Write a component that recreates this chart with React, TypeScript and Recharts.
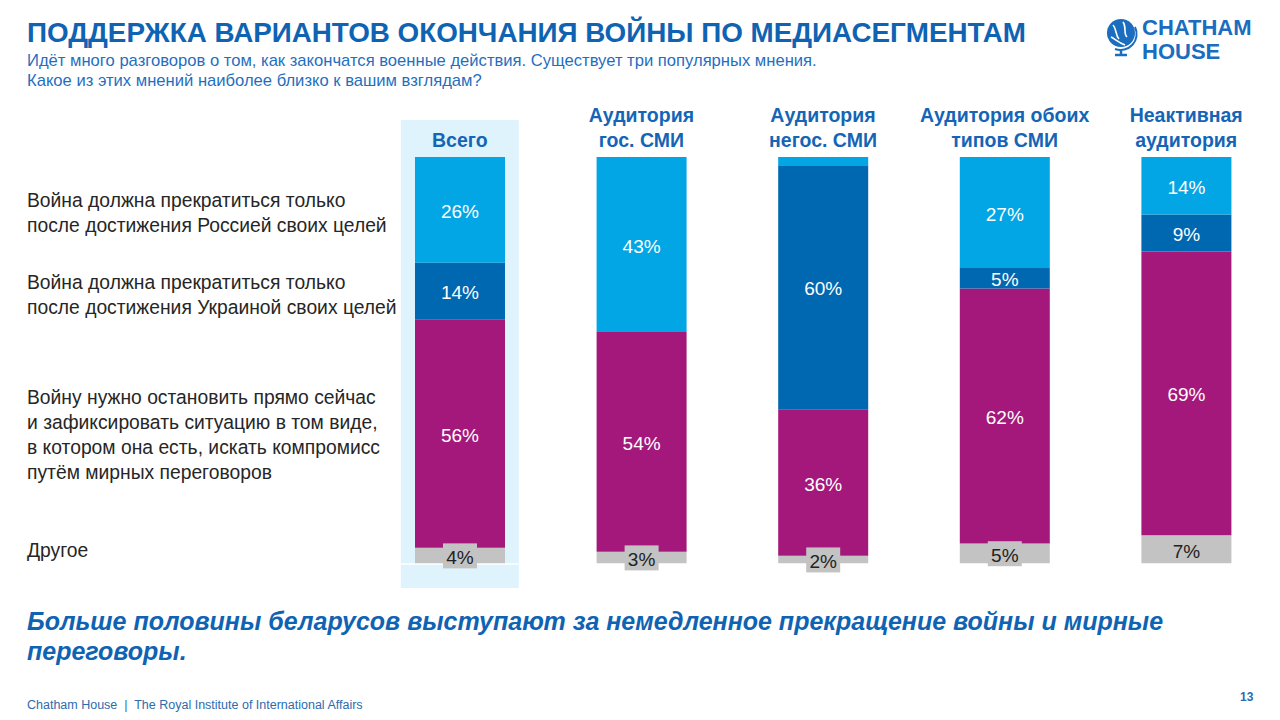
import React from "react";
import {
  BarChart,
  Bar,
  XAxis,
  YAxis,
  LabelList,
  ReferenceArea,
  ReferenceLine,
} from "recharts";

// Column headers (media segments)
const segments = [
  "Всего",
  "Аудитория\nгос. СМИ",
  "Аудитория\nнегос. СМИ",
  "Аудитория обоих\nтипов СМИ",
  "Неактивная\nаудитория",
];

// Answer shares, % (bottom to top in the stack)
const other = [4, 3, 2, 5, 7];
const stopNow = [56, 54, 36, 62, 69];
const untilUkraine = [14, 0, 60, 5, 9];
const untilRussia = [26, 43, 2, 27, 14];

// Answer wording shown on the left
const answerLabels = [
  "Война должна прекратиться только\nпосле достижения Россией своих целей",
  "Война должна прекратиться только\nпосле достижения Украиной своих целей",
  "Войну нужно остановить прямо сейчас\nи зафиксировать ситуацию в том виде,\nв котором она есть, искать компромисс\nпутём мирных переговоров",
  "Другое",
];
const answerTops = [188, 270, 385, 538];

const FONT = "'Liberation Sans', Arial, sans-serif";
const BLUE = "#0f63b3";
const colors = {
  russia: "#02a6e4",
  ukraine: "#0067b1",
  stop: "#a4187b",
  other: "#c3c3c3",
};

const chartData = segments.map((name, i) => ({
  name,
  other: other[i],
  stop: stopNow[i],
  ukraine: untilUkraine[i],
  russia: untilRussia[i],
}));

function HeaderTick(props: any) {
  const { x, y, payload } = props;
  const lines = String(payload.value).split("\n");
  return (
    <text
      x={x}
      y={y}
      textAnchor="middle"
      fill="#1565b6"
      fontFamily={FONT}
      fontWeight={700}
      fontSize={19.5}
    >
      {lines.map((line, i) => (
        <tspan key={i} x={x} y={y - 10 - (lines.length - 1 - i) * 25}>
          {line}
        </tspan>
      ))}
    </text>
  );
}

function makeLabel(dark: boolean) {
  return (props: any) => {
    const { x, y, width, height, value } = props;
    const v = Number(value);
    if (!v || (!dark && v < 3)) return null;
    const cx = x + width / 2;
    const cy = y + height / 2;
    return (
      <g>
        {dark && (
          <rect x={cx - 17} y={cy - 12.5} width={34} height={25} fill={colors.other} />
        )}
        <text
          x={cx}
          y={cy + 8}
          textAnchor="middle"
          fill={dark ? "#222" : "#fff"}
          fontFamily={FONT}
          fontSize={19}
        >
          {v}%
        </text>
      </g>
    );
  };
}

function Highlight(props: any) {
  const { x, y, width, height } = props;
  const cx = x + width / 2;
  return (
    <rect x={cx - 59} y={y - 37} width={118} height={height + 61} fill="#dff3fd" />
  );
}

function Globe() {
  return (
    <svg width={34} height={42} viewBox="0 0 34 42" style={{ position: "absolute", left: 1105, top: 17 }}>
      <circle cx={16} cy={16} r={14} fill="#1a6dbf" />
      <path d="M8 8 C12 12, 10 18, 14 22 M18 5 C22 10, 18 16, 22 20 M6 20 C10 22, 14 26, 20 28" stroke="#fff" strokeWidth={1.6} fill="none" />
      <path d="M30 10 A16 16 0 0 1 10 32" stroke="#1a6dbf" strokeWidth={2} fill="none" />
      <line x1={16} y1={32} x2={16} y2={37} stroke="#1a6dbf" strokeWidth={2.5} />
      <line x1={10} y1={38} x2={22} y2={38} stroke="#1a6dbf" strokeWidth={2.5} />
    </svg>
  );
}

export default function App() {
  return (
    <div style={{ position: "relative", width: 1280, height: 720, background: "#fff", fontFamily: FONT, overflow: "hidden" }}>
      <style>{"body{margin:0}"}</style>

      <div style={{ position: "absolute", left: 27, top: 17, fontSize: 27.8, fontWeight: 700, color: BLUE, whiteSpace: "nowrap" }}>
        ПОДДЕРЖКА ВАРИАНТОВ ОКОНЧАНИЯ ВОЙНЫ ПО МЕДИАСЕГМЕНТАМ
      </div>
      <div style={{ position: "absolute", left: 27, top: 51, fontSize: 16.6, lineHeight: "20px", color: "#1f6fc0", whiteSpace: "nowrap" }}>
        Идёт много разговоров о том, как закончатся военные действия. Существует три популярных мнения.
        <br />
        Какое из этих мнений наиболее близко к вашим взглядам?
      </div>

      <Globe />
      <div style={{ position: "absolute", left: 1142, top: 17, fontSize: 22, lineHeight: "22px", fontWeight: 700, color: "#1a6dbf" }}>
        CHATHAM
      </div>
      <div style={{ position: "absolute", left: 1142, top: 41, fontSize: 22, lineHeight: "22px", fontWeight: 700, color: "#1a6dbf" }}>
        HOUSE
      </div>

      {answerLabels.map((label, i) => (
        <div
          key={i}
          style={{ position: "absolute", left: 27, top: answerTops[i], fontSize: 19.3, lineHeight: "25px", color: "#262626", whiteSpace: "pre" }}
        >
          {label}
        </div>
      ))}

      <div style={{ position: "absolute", left: 0, top: 0 }}>
        <BarChart
          width={1280}
          height={720}
          data={chartData}
          stackOffset="expand"
          margin={{ top: 107, right: 3, bottom: 156, left: 369 }}
        >
          <ReferenceArea x1="Всего" x2="Всего" shape={<Highlight />} ifOverflow="visible" />
          <XAxis
            dataKey="name"
            orientation="top"
            height={50}
            axisLine={false}
            tickLine={false}
            tickSize={0}
            tickMargin={0}
            interval={0}
            tick={<HeaderTick />}
          />
          <YAxis hide domain={[0, 1]} width={0} />
          <Bar dataKey="other" stackId="a" fill={colors.other} barSize={90} isAnimationActive={false}>
            <LabelList dataKey="other" content={makeLabel(true)} />
          </Bar>
          <Bar dataKey="stop" stackId="a" fill={colors.stop} barSize={90} isAnimationActive={false}>
            <LabelList dataKey="stop" content={makeLabel(false)} />
          </Bar>
          <Bar dataKey="ukraine" stackId="a" fill={colors.ukraine} barSize={90} isAnimationActive={false}>
            <LabelList dataKey="ukraine" content={makeLabel(false)} />
          </Bar>
          <Bar dataKey="russia" stackId="a" fill={colors.russia} barSize={90} isAnimationActive={false}>
            <LabelList dataKey="russia" content={makeLabel(false)} />
          </Bar>
          <ReferenceLine y={0} stroke="#fff" strokeWidth={1.5} />
        </BarChart>
      </div>

      <div style={{ position: "absolute", left: 27, top: 606, fontSize: 25, lineHeight: "30px", fontWeight: 700, fontStyle: "italic", color: BLUE, width: 1220 }}>
        Больше половины беларусов выступают за немедленное прекращение войны и мирные
        <br />
        переговоры.
      </div>
      <div style={{ position: "absolute", left: 27, top: 698, fontSize: 12.5, color: "#2b6cb0", whiteSpace: "pre" }}>
        {"Chatham House  |  The Royal Institute of International Affairs"}
      </div>
      <div style={{ position: "absolute", left: 1240, top: 690, fontSize: 12, fontWeight: 700, color: "#2b6cb0" }}>
        13
      </div>
    </div>
  );
}
